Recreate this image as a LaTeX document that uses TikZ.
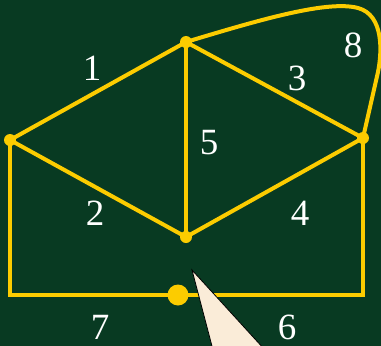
\documentclass[tikz,border=0pt]{standalone}
\usepackage{fontspec}
\setmainfont{Liberation Serif}
\definecolor{board}{RGB}{8,58,34}
\definecolor{chalk}{RGB}{252,204,0}
\definecolor{paper}{RGB}{250,236,216}
\begin{document}
\begin{tikzpicture}[x=1pt,y=-1pt,
  edge/.style={chalk,line width=4pt},
  dot/.style={circle,fill=chalk,inner sep=0pt,minimum size=12pt},
  num/.style={white,font=\fontsize{37}{40}\selectfont}]
				%
				% board and frame
				\fill[board] (0,0) rectangle (381,346);
				\clip (0,0) rectangle (381,346);
				%
				% vertices
				\node[dot] (a) at (10,140) {};
				\node[dot] (b) at (186,42) {};
				\node[dot] (c) at (363,138) {};
				\node[dot] (d) at (186,237) {};
				\node[dot,minimum size=21pt] (e) at (178,295) {};
				\coordinate (bl) at (10,295);
				\coordinate (br) at (363,295);
				\coordinate (tr) at (358,8);
				\coordinate (rr) at (378,72);
				%
				% edges
				\draw[edge] (a.center) -- (b.center);
				\draw[edge] (a.center) -- (d.center);
				\draw[edge] (b.center) -- (c.center);
				\draw[edge] (d.center) -- (c.center);
				\draw[edge] (b.center) -- (d.center);
				\draw[edge] (a.center) -- (bl) -- (e.center) -- (br) -- (c.center);
				\draw[edge] (b.center) .. controls (262,19) and (328,0) .. (tr)
				  .. controls (384,15) and (382,52) .. (rr) -- (c.center);
				%
				% edge numbers
				\node[num] (n1) at (92,68) {1};
				\node[num] (n2) at (95,213) {2};
				\node[num] (n3) at (297,78) {3};
				\node[num] (n4) at (300,213) {4};
				\node[num] (n5) at (209,143) {5};
				\node[num] (n6) at (287,327) {6};
				\node[num] (n7) at (100,327) {7};
				\node[num] (n8) at (353,45) {8};
				%
				% pointer
				\draw[fill=paper,line width=0.8pt] (192,270) -- (265,350) -- (213,350) -- cycle;
			\end{tikzpicture}
\end{document}
